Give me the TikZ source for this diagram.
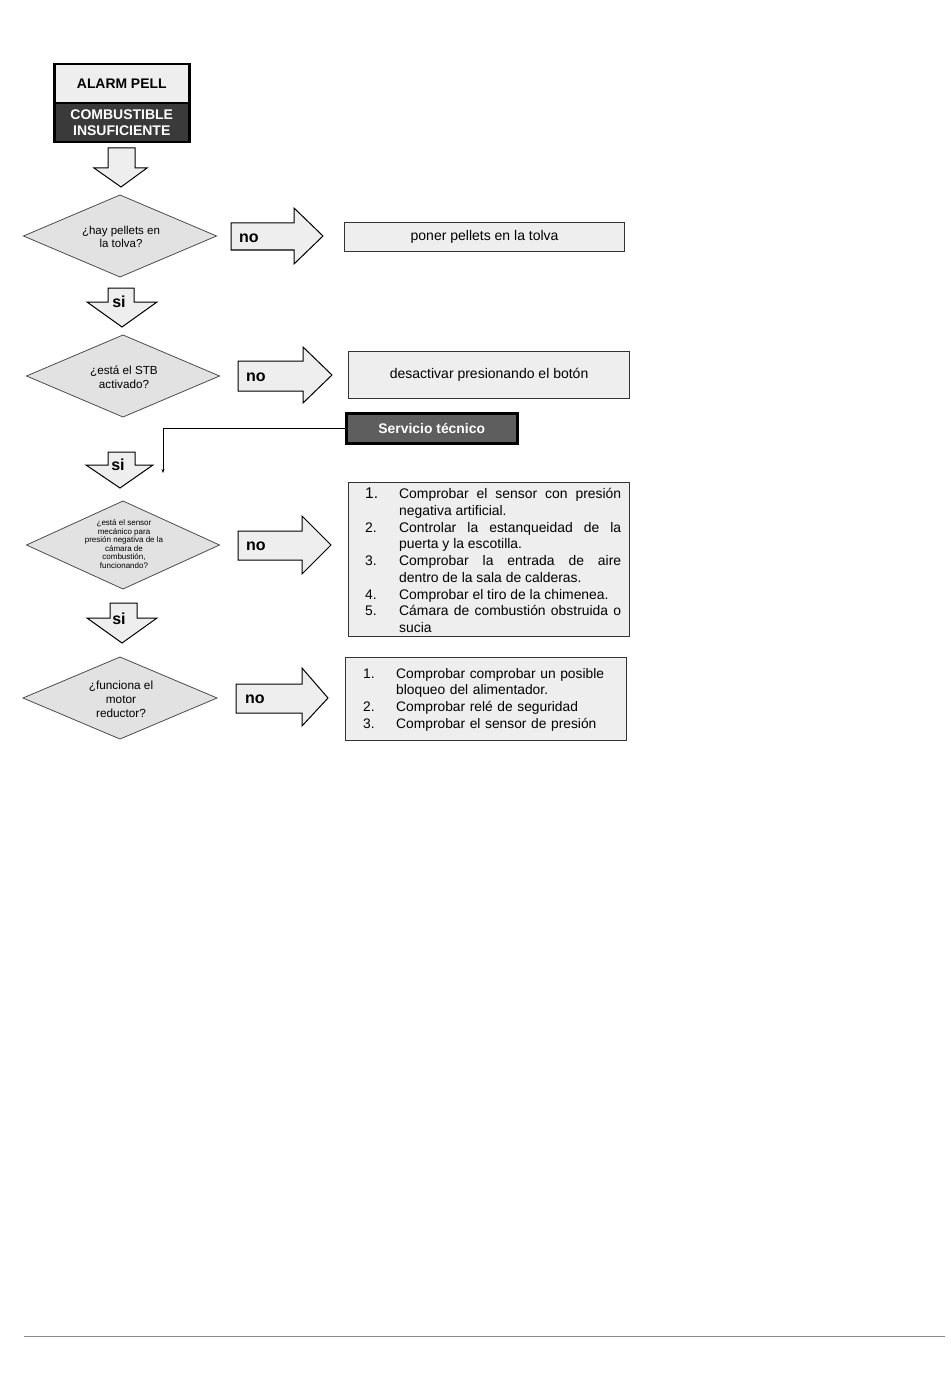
\documentclass[tikz,border=0pt]{standalone}
\usepackage{fontspec}
\setmainfont{Liberation Sans}
\usetikzlibrary{arrows.meta}
\definecolor{boxgray}{HTML}{EEEEEE}
\definecolor{diagray}{HTML}{E2E2E2}
\definecolor{darkhead}{HTML}{3A3A3A}
\definecolor{servgray}{HTML}{5E5E5E}
\definecolor{rulegray}{HTML}{8A8A8A}
\tikzset{
  actbox/.style={draw=black!80, line width=1.2pt, fill=boxgray, inner sep=0pt},
  decfill/.style={draw=black!70, line width=0.8pt, fill=diagray, line join=miter},
  dectext/.style={inner sep=0pt, align=center},
  blockarrow/.style={draw=black, line width=1pt, fill=boxgray, line join=miter},
  arrlabel/.style={font=\fontsize{16}{16}\selectfont\bfseries, inner sep=0pt},
}
\newcommand{\litem}[3]{\noindent\hangindent=#1\hangafter=1\makebox[#1][l]{#2}#3\par}
\newcommand{\diamondpath}[4]{\draw[decfill] (#1-#3,#2) -- (#1,#2-#4) -- (#1+#3,#2) -- (#1,#2+#4) -- cycle;}
\begin{document}
\begin{tikzpicture}[x=1pt,y=-1pt]
\useasboundingbox (0,0) rectangle (950,1388);
\fill[white] (0,0) rectangle (950,1388);

% title box
\node[draw=black, line width=2.5pt, fill=boxgray, minimum width=135pt, minimum height=39pt, inner sep=0pt,
      font=\fontsize{13.9}{14}\selectfont\bfseries, anchor=north west] (title) at (53,63) {ALARM PELL};
\node[draw=black, line width=2.5pt, fill=darkhead, text=white, minimum width=135pt, minimum height=39pt, inner sep=0pt,
      align=center, font=\fontsize{14}{16}\selectfont\bfseries, anchor=north west] (fuel) at (53,102) {COMBUSTIBLE\\INSUFICIENTE};

% first down arrow
\draw[blockarrow] (108,148) -- (135,148) -- (135,168) -- (147,168) -- (121,187) -- (94,168) -- (108,168) -- cycle;

% decisions
\diamondpath{120}{236}{96.5}{41}
\node[dectext, font=\fontsize{11.5}{13}\selectfont] (d1) at (121,237) {¿hay pellets en\\la tolva?};
\diamondpath{123}{376}{96.5}{41}
\node[dectext, font=\fontsize{11.7}{13.5}\selectfont] (d2) at (124,377) {¿está el STB\\activado?};
\diamondpath{123}{545}{96.5}{44}
\node[dectext, font=\fontsize{8}{8.6}\selectfont] (d3) at (124,544)
  {¿está el sensor\\mecánico para\\presión negativa de la\\cámara de\\combustión,\\funcionando?};
\diamondpath{120}{698}{97}{41}
\node[dectext, font=\fontsize{11.8}{14}\selectfont] (d4) at (121,699) {¿funciona el\\motor\\reductor?};

% si arrows
\draw[blockarrow] (108,288) -- (134,288) -- (134,302) -- (157,302) -- (122,327) -- (87,302) -- (108,302) -- cycle;
\node[arrlabel] (si1) at (119,302) {si};
\draw[blockarrow] (108,452) -- (135,452) -- (135,465) -- (153,465) -- (120,488) -- (86,465) -- (108,465) -- cycle;
\node[arrlabel] (si2) at (118,465) {si};
\draw[blockarrow] (110,603) -- (137,603) -- (137,618) -- (157,618) -- (122,643) -- (87,618) -- (110,618) -- cycle;
\node[arrlabel] (si3) at (119,619) {si};

% no arrows
\draw[blockarrow] (231,223) -- (294,223) -- (294,208) -- (323,236) -- (294,264) -- (294,250) -- (231,250) -- cycle;
\node[arrlabel, anchor=west] (no1) at (239,238) {no};
\draw[blockarrow] (238,361) -- (303,361) -- (303,347) -- (332,375) -- (303,403) -- (303,391) -- (238,391) -- cycle;
\node[arrlabel, anchor=west] (no2) at (246,377) {no};
\draw[blockarrow] (238,531) -- (302,531) -- (302,516) -- (331,545) -- (302,574) -- (302,560) -- (238,560) -- cycle;
\node[arrlabel, anchor=west] (no3) at (246,546) {no};
\draw[blockarrow] (236,684) -- (302,684) -- (302,668) -- (328,698) -- (302,726) -- (302,713) -- (236,713) -- cycle;
\node[arrlabel, anchor=west] (no4) at (245,699) {no};

% action boxes
\node[actbox, minimum width=280pt, minimum height=29pt, font=\fontsize{14}{14}\selectfont, anchor=north west] (a1) at (344,222)
  {\raisebox{-2.5pt}{poner pellets en la tolva}};
\node[actbox, minimum width=281pt, minimum height=47pt, font=\fontsize{14}{14}\selectfont, anchor=north west] (a2) at (348,351)
  {\raisebox{-2.5pt}{desactivar presionando el botón}};

\node[draw=black, line width=2.5pt, fill=servgray, text=white, minimum width=171pt, minimum height=30pt, inner sep=0pt,
      font=\fontsize{13.9}{14}\selectfont\bfseries, anchor=north west] (serv) at (345,412) {Servicio técnico};

\node[actbox, minimum width=281pt, minimum height=154pt, anchor=north west] (a3) at (348,482) {};
\node[anchor=north west, inner sep=0pt, text width=256pt, align=justify, font=\fontsize{13.9}{16.7}\selectfont] (l3) at (365,488) {%
\litem{34pt}{\fontsize{15.5}{16.7}\selectfont 1.}{Comprobar el sensor con presión negativa artificial.}
\litem{34pt}{2.}{Controlar la estanqueidad de la puerta y la escotilla.}
\litem{34pt}{3.}{Comprobar la entrada de aire\linebreak dentro de la sala de calderas.}
\litem{34pt}{4.}{Comprobar el tiro de la chimenea.}
\litem{34pt}{5.}{Cámara de combustión obstruida o sucia}};

\node[actbox, minimum width=281pt, minimum height=83pt, anchor=north west] (a4) at (345,657) {};
\node[anchor=north west, inner sep=0pt, text width=250pt, align=left, font=\fontsize{13.8}{16.7}\selectfont] (l4) at (363,668) {%
\litem{33pt}{1.}{Comprobar comprobar un posible bloqueo del alimentador.}
\litem{33pt}{2.}{Comprobar relé de seguridad}
\litem{33pt}{3.}{Comprobar el sensor de presión}};

% connector from Servicio técnico
\coordinate (end) at (163,473);
\draw[line width=0.6pt, -{Stealth[length=4pt,width=3pt]}] (serv.west) -| (end);

% bottom rule
\draw[rulegray, line width=1pt] (24,1336) -- (945,1336);
\end{tikzpicture}
\end{document}
